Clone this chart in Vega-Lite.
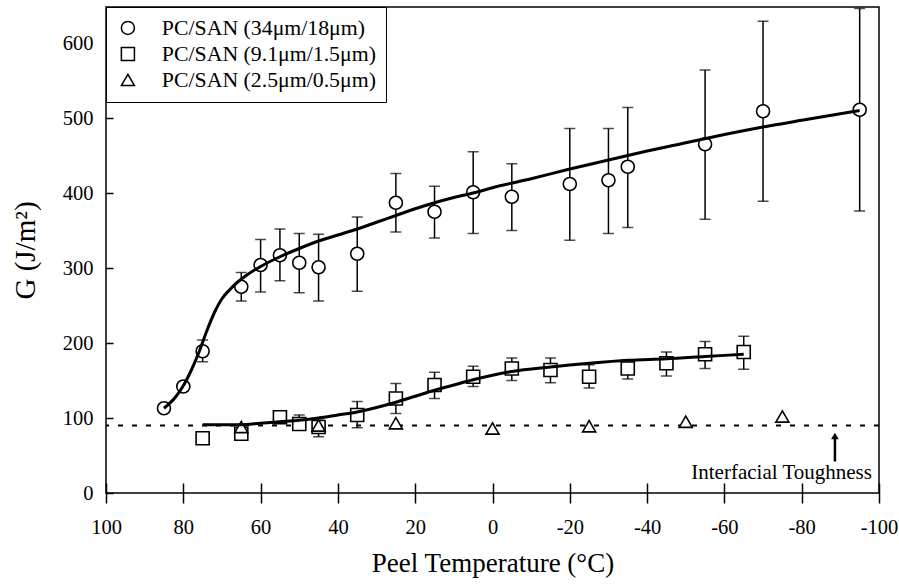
{
  "$schema": "https://vega.github.io/schema/vega-lite/v6.json",
  "width": 773,
  "height": 486,
  "autosize": {"type": "none"},
  "padding": {"left": 106, "top": 7, "right": 20, "bottom": 94},
  "background": "white",
  "config": {
    "view": {"stroke": "black", "strokeWidth": 1.5},
    "font": "Liberation Serif",
    "axis": {"grid": false, "domain": false, "tickColor": "black", "tickWidth": 1.5, "labelColor": "black", "titleColor": "black", "labelFont": "Liberation Serif", "titleFont": "Liberation Serif", "titleFontWeight": "normal", "labelFontSize": 20.5}
  },
  "datasets": {
    "pts": [
      {"series": "PC/SAN (34μm/18μm)", "t": 85, "g": 113, "lo": null, "hi": null},
      {"series": "PC/SAN (34μm/18μm)", "t": 80, "g": 142, "lo": null, "hi": null},
      {"series": "PC/SAN (34μm/18μm)", "t": 75, "g": 189, "lo": 175, "hi": 204},
      {"series": "PC/SAN (34μm/18μm)", "t": 65, "g": 275, "lo": 256, "hi": 294},
      {"series": "PC/SAN (34μm/18μm)", "t": 60, "g": 304, "lo": 268, "hi": 338},
      {"series": "PC/SAN (34μm/18μm)", "t": 55, "g": 317, "lo": 283, "hi": 352},
      {"series": "PC/SAN (34μm/18μm)", "t": 50, "g": 307, "lo": 267, "hi": 346},
      {"series": "PC/SAN (34μm/18μm)", "t": 45, "g": 301, "lo": 256, "hi": 345},
      {"series": "PC/SAN (34μm/18μm)", "t": 35, "g": 319, "lo": 269, "hi": 368},
      {"series": "PC/SAN (34μm/18μm)", "t": 25, "g": 387, "lo": 348, "hi": 426},
      {"series": "PC/SAN (34μm/18μm)", "t": 15, "g": 375, "lo": 340, "hi": 409},
      {"series": "PC/SAN (34μm/18μm)", "t": 5, "g": 401, "lo": 346, "hi": 455},
      {"series": "PC/SAN (34μm/18μm)", "t": -5, "g": 395, "lo": 350, "hi": 439},
      {"series": "PC/SAN (34μm/18μm)", "t": -20, "g": 412, "lo": 337, "hi": 486},
      {"series": "PC/SAN (34μm/18μm)", "t": -30, "g": 417, "lo": 346, "hi": 486},
      {"series": "PC/SAN (34μm/18μm)", "t": -35, "g": 435, "lo": 354, "hi": 514},
      {"series": "PC/SAN (34μm/18μm)", "t": -55, "g": 465, "lo": 365, "hi": 564},
      {"series": "PC/SAN (34μm/18μm)", "t": -70, "g": 509, "lo": 389, "hi": 629},
      {"series": "PC/SAN (34μm/18μm)", "t": -95, "g": 511, "lo": 376, "hi": 646},
      {"series": "PC/SAN (9.1μm/1.5μm)", "t": 75, "g": 73, "lo": null, "hi": null},
      {"series": "PC/SAN (9.1μm/1.5μm)", "t": 65, "g": 79, "lo": null, "hi": null},
      {"series": "PC/SAN (9.1μm/1.5μm)", "t": 55, "g": 101, "lo": null, "hi": null},
      {"series": "PC/SAN (9.1μm/1.5μm)", "t": 50, "g": 92, "lo": 84, "hi": 104},
      {"series": "PC/SAN (9.1μm/1.5μm)", "t": 45, "g": 88, "lo": 75, "hi": 97},
      {"series": "PC/SAN (9.1μm/1.5μm)", "t": 35, "g": 104, "lo": 87, "hi": 122},
      {"series": "PC/SAN (9.1μm/1.5μm)", "t": 25, "g": 126, "lo": 106, "hi": 146},
      {"series": "PC/SAN (9.1μm/1.5μm)", "t": 15, "g": 144, "lo": 126, "hi": 161},
      {"series": "PC/SAN (9.1μm/1.5μm)", "t": 5, "g": 155, "lo": 142, "hi": 169},
      {"series": "PC/SAN (9.1μm/1.5μm)", "t": -5, "g": 166, "lo": 150, "hi": 180},
      {"series": "PC/SAN (9.1μm/1.5μm)", "t": -15, "g": 164, "lo": 147, "hi": 180},
      {"series": "PC/SAN (9.1μm/1.5μm)", "t": -25, "g": 155, "lo": 140, "hi": 171},
      {"series": "PC/SAN (9.1μm/1.5μm)", "t": -35, "g": 166, "lo": 152, "hi": 177},
      {"series": "PC/SAN (9.1μm/1.5μm)", "t": -45, "g": 173, "lo": 156, "hi": 188},
      {"series": "PC/SAN (9.1μm/1.5μm)", "t": -55, "g": 185, "lo": 166, "hi": 202},
      {"series": "PC/SAN (9.1μm/1.5μm)", "t": -65, "g": 188, "lo": 165, "hi": 209},
      {"series": "PC/SAN (2.5μm/0.5μm)", "t": 65, "g": 88, "lo": null, "hi": null},
      {"series": "PC/SAN (2.5μm/0.5μm)", "t": 45, "g": 90, "lo": null, "hi": null},
      {"series": "PC/SAN (2.5μm/0.5μm)", "t": 25, "g": 93, "lo": null, "hi": null},
      {"series": "PC/SAN (2.5μm/0.5μm)", "t": 0, "g": 86, "lo": null, "hi": null},
      {"series": "PC/SAN (2.5μm/0.5μm)", "t": -25, "g": 89, "lo": null, "hi": null},
      {"series": "PC/SAN (2.5μm/0.5μm)", "t": -50, "g": 95, "lo": null, "hi": null},
      {"series": "PC/SAN (2.5μm/0.5μm)", "t": -75, "g": 102, "lo": null, "hi": null}
    ],
    "fits": [
      {"fit": "a", "t": 85, "g": 113}, {"fit": "a", "t": 82, "g": 128}, {"fit": "a", "t": 80, "g": 143},
      {"fit": "a", "t": 78, "g": 163}, {"fit": "a", "t": 76, "g": 187}, {"fit": "a", "t": 74, "g": 215},
      {"fit": "a", "t": 72, "g": 240}, {"fit": "a", "t": 70, "g": 259}, {"fit": "a", "t": 68, "g": 271},
      {"fit": "a", "t": 66, "g": 281}, {"fit": "a", "t": 64, "g": 289}, {"fit": "a", "t": 62, "g": 296},
      {"fit": "a", "t": 60, "g": 302}, {"fit": "a", "t": 55, "g": 315}, {"fit": "a", "t": 50, "g": 326},
      {"fit": "a", "t": 45, "g": 336}, {"fit": "a", "t": 40, "g": 344}, {"fit": "a", "t": 35, "g": 352},
      {"fit": "a", "t": 30, "g": 361}, {"fit": "a", "t": 25, "g": 370}, {"fit": "a", "t": 20, "g": 379},
      {"fit": "a", "t": 15, "g": 387}, {"fit": "a", "t": 10, "g": 394}, {"fit": "a", "t": 5, "g": 400},
      {"fit": "a", "t": 0, "g": 407}, {"fit": "a", "t": -10, "g": 419}, {"fit": "a", "t": -20, "g": 432},
      {"fit": "a", "t": -30, "g": 444}, {"fit": "a", "t": -40, "g": 456}, {"fit": "a", "t": -50, "g": 467},
      {"fit": "a", "t": -60, "g": 478}, {"fit": "a", "t": -70, "g": 488}, {"fit": "a", "t": -80, "g": 497},
      {"fit": "a", "t": -95, "g": 510},
      {"fit": "b", "t": 75, "g": 91}, {"fit": "b", "t": 65, "g": 91}, {"fit": "b", "t": 60, "g": 93},
      {"fit": "b", "t": 55, "g": 95}, {"fit": "b", "t": 50, "g": 97}, {"fit": "b", "t": 45, "g": 100},
      {"fit": "b", "t": 40, "g": 104}, {"fit": "b", "t": 35, "g": 108}, {"fit": "b", "t": 30, "g": 114},
      {"fit": "b", "t": 25, "g": 121}, {"fit": "b", "t": 20, "g": 129}, {"fit": "b", "t": 15, "g": 137},
      {"fit": "b", "t": 10, "g": 144}, {"fit": "b", "t": 5, "g": 151}, {"fit": "b", "t": 0, "g": 157},
      {"fit": "b", "t": -5, "g": 162}, {"fit": "b", "t": -15, "g": 168}, {"fit": "b", "t": -25, "g": 173},
      {"fit": "b", "t": -35, "g": 177}, {"fit": "b", "t": -45, "g": 179}, {"fit": "b", "t": -55, "g": 182},
      {"fit": "b", "t": -65, "g": 185}
    ]
  },
  "encoding": {
    "x": {"field": "t", "type": "quantitative",
      "scale": {"domain": [-100, 100], "reverse": true, "nice": false, "zero": false},
      "axis": {"values": [100, 80, 60, 40, 20, 0, -20, -40, -60, -80, -100], "offset": -10, "tickSize": 20, "labelPadding": 14, "labelFlush": false,
        "labelExpr": "replace(datum.label, '\u2212', '-')",
        "title": "Peel Temperature (°C)", "titleFontSize": 27, "titlePadding": 13}},
    "y": {"field": "g", "type": "quantitative",
      "scale": {"domain": [0, 648], "nice": false, "zero": false},
      "axis": {"values": [0, 100, 200, 300, 400, 500, 600], "offset": -7, "tickSize": 7, "labelPadding": 13, "labelFlush": false,
        "title": "G  (J/m²)", "titleFontSize": 29, "titlePadding": 22}}
  },
  "layer": [
    {
      "data": {"values": [{"y": 90}]},
      "mark": {"type": "rule", "color": "black", "strokeWidth": 2.2, "strokeDash": [5, 9]},
      "encoding": {"y": {"field": "y", "type": "quantitative"}, "x": null}
    },
    {
      "data": {"name": "pts"},
      "transform": [{"filter": "datum.lo != null"}],
      "mark": {"type": "rule", "color": "black", "strokeWidth": 1.5},
      "encoding": {"y": {"field": "lo", "type": "quantitative"}, "y2": {"field": "hi"}}
    },
    {
      "data": {"name": "pts"},
      "transform": [{"filter": "datum.lo != null"}],
      "mark": {"type": "tick", "orient": "horizontal", "color": "black", "thickness": 1.5, "size": 11},
      "encoding": {"y": {"field": "lo", "type": "quantitative"}}
    },
    {
      "data": {"name": "pts"},
      "transform": [{"filter": "datum.lo != null"}],
      "mark": {"type": "tick", "orient": "horizontal", "color": "black", "thickness": 1.5, "size": 11},
      "encoding": {"y": {"field": "hi", "type": "quantitative"}}
    },
    {
      "data": {"name": "pts"},
      "mark": {"type": "point", "filled": false, "fill": "white", "fillOpacity": 1, "stroke": "black", "strokeWidth": 1.6, "opacity": 1},
      "encoding": {
        "size": {"field": "series", "type": "nominal",
          "scale": {"domain": ["PC/SAN (34μm/18μm)", "PC/SAN (9.1μm/1.5μm)", "PC/SAN (2.5μm/0.5μm)"], "range": [170, 170, 420]},
          "legend": {"title": null, "orient": "top-left", "offset": 0, "padding": 10, "strokeColor": "black", "fillColor": "white",
            "symbolOffset": 1, "labelOffset": 23, "labelFont": "Liberation Serif", "labelFontSize": 21.8, "labelColor": "black", "rowPadding": 3, "labelLimit": 400}},
        "shape": {"field": "series", "type": "nominal",
          "scale": {"domain": ["PC/SAN (34μm/18μm)", "PC/SAN (9.1μm/1.5μm)", "PC/SAN (2.5μm/0.5μm)"], "range": ["circle", "square", "triangle-up"]},
          "legend": {"title": null, "orient": "top-left", "offset": 0, "padding": 10, "strokeColor": "black", "fillColor": "white",
            "symbolOffset": 1, "labelOffset": 23, "labelFont": "Liberation Serif", "labelFontSize": 21.8, "labelColor": "black", "rowPadding": 3, "labelLimit": 400,
            "encode": {
              "legend": {"update": {"strokeWidth": {"value": 1.5}}},
              "symbols": {"update": {"stroke": {"value": "black"}, "fill": {"value": "white"}, "strokeWidth": {"value": 1.5}, "opacity": {"value": 1}, "size": {"value": 140}}}
            }}}
      }
    },
    {
      "data": {"name": "fits"},
      "mark": {"type": "line", "color": "black", "strokeWidth": 3, "interpolate": "monotone"},
      "encoding": {"detail": {"field": "fit"}}
    },
    {
      "data": {"values": [{"t": -88.6, "g": 42, "g2": 72}]},
      "mark": {"type": "rule", "color": "black", "strokeWidth": 2.5},
      "encoding": {"y2": {"field": "g2"}}
    },
    {
      "data": {"values": [{"t": -88.6, "g": 76}]},
      "mark": {"type": "point", "shape": "triangle-up", "filled": true, "color": "black", "size": 60, "opacity": 1}
    },
    {
      "data": {"values": [{"t": -74.8, "g": 26.5, "label": "Interfacial Toughness"}]},
      "mark": {"type": "text", "font": "Liberation Serif", "fontSize": 21, "color": "black", "align": "center", "baseline": "middle"},
      "encoding": {"text": {"field": "label"}}
    }
  ]
}
